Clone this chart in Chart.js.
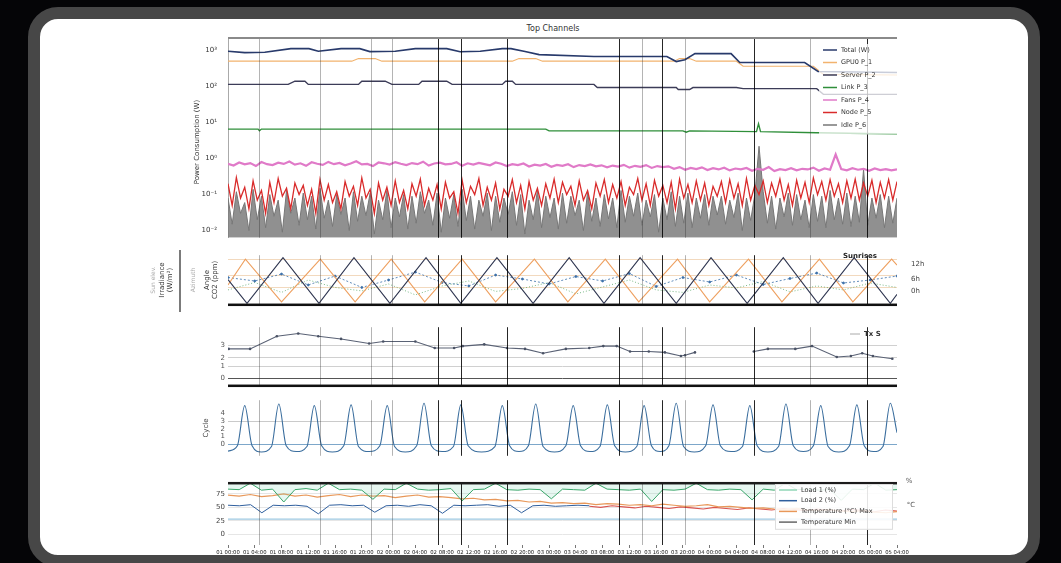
<!DOCTYPE html>
<html><head><meta charset="utf-8">
<script src="https://cdn.jsdelivr.net/npm/chart.js@4.4.1/dist/chart.umd.min.js"></script>
<style>
html,body{margin:0;padding:0;background:#050507;width:1061px;height:563px;overflow:hidden;}
#card{position:absolute;left:28px;top:7px;width:1012px;height:560px;box-sizing:border-box;border:12px solid #474747;border-radius:30px;background:#fff;}
canvas{position:absolute;left:100px;}
#title{position:absolute;left:453px;width:200px;top:24px;text-align:center;font:8px "DejaVu Sans";color:#333}
</style></head><body>
<div id="card"></div>
<div id="title">Top Channels</div>
<canvas id="c1" width="860" height="225" style="top:20px"></canvas>
<canvas id="c2" width="860" height="70" style="top:245px"></canvas>
<canvas id="c3" width="860" height="73" style="top:320px"></canvas>
<canvas id="c4" width="860" height="70" style="top:393px"></canvas>
<canvas id="c5" width="860" height="84" style="top:476px"></canvas>
<script>
// ---------------- data ----------------
const xTickLabels = ["01 00:00","01 04:00","01 08:00","01 12:00","01 16:00","01 20:00","02 00:00","02 04:00","02 08:00","02 12:00","02 16:00","02 20:00","03 00:00","03 04:00","03 08:00","03 12:00","03 16:00","03 20:00","04 00:00","04 04:00","04 08:00","04 12:00","04 16:00","04 20:00","05 00:00","05 04:00"];
const darkEvents = [31.4, 34.8, 41.7, 58.4, 64.9, 78.6, 95.5];
const lightEvents = [4.6, 13.8, 21.4, 24.5, 61.9, 68.3, 87.0];

// panel 1 (log scale)
const p1TickVals = [0.01, 0.1, 1, 10, 100, 1000];
const p1TickLabels = ["10\u207B\u00B2","10\u207B\u00B9","10\u2070","10\u00B9","10\u00B2","10\u00B3"];
const p1Labels = ["Total (W)","GPU0 P_1","Server P_2","Link P_3","Fans P_4","Node P_5","Idle P_6"];
const p1NavyX = [0,2.5,5.5,9.4,12.1,13.5,16.9,19.7,21.2,25,28,32.7,34.7,37.7,41,42.3,44.4,46.5,54.7,65.6,67,68.3,69.8,75.2,76.5,86.2,88.2,100];
const p1NavyY = [960,880,900,1135,1135,960,1135,1135,940,960,1135,1135,930,960,1135,1135,940,775,683,683,497,560,826,826,466,466,263,247];
const p1OrangeX = [0,18.5,19.5,22,23,42.5,43.5,46,47,66.7,67.5,69,70,76,77,87.5,89,100];
const p1OrangeY = [507,507,601,601,507,507,601,601,507,507,601,601,507,507,368,368,218,210];
const p1DarkX = [0,9,10,11.5,12,19.5,20,23.5,24.5,28.5,29,32.7,33.5,41,41.5,42.5,43,54.7,55.2,67,67.3,69,69.5,76,77,88,89,100];
const p1DarkY = [115,115,141,141,115,115,141,141,115,115,141,141,115,115,141,141,115,115,94,94,83,83,94,94,88,88,61,61];
const p1GreenX = [0,4.5,4.7,5,47.5,48,68,68.5,69,79,79.3,79.6,88,100];
const p1GreenY = [6.6,6.6,5.9,6.6,6.6,5.9,5.9,5.4,5.9,5.6,9.2,5.6,5.2,4.8];
const p1Pink = [0.72,0.64,0.78,0.69,0.75,0.62,0.80,0.70,0.66,0.77,
 0.71,0.83,0.68,0.74,0.63,0.79,0.72,0.67,0.81,0.70,
 0.76,0.65,0.73,0.84,0.69,0.71,0.62,0.78,0.74,0.68,
 0.80,0.72,0.66,0.75,0.70,0.82,0.64,0.73,0.77,0.69,
 0.71,0.79,0.63,0.74,0.68,0.76,0.70,0.65,0.78,0.72,
 0.62,0.70,0.66,0.73,0.60,0.68,0.64,0.71,0.59,0.67,
 0.63,0.70,0.58,0.66,0.62,0.69,0.61,0.65,0.57,0.64,
 0.60,0.67,0.56,0.63,0.59,0.66,0.55,0.62,0.58,0.61,
 0.52,0.58,0.49,0.55,0.51,0.57,0.48,0.54,0.50,0.56,
 0.47,0.53,0.50,0.55,0.46,0.52,0.49,0.58,0.45,0.51,
 0.48,0.54,0.47,0.52,0.50,0.56,0.46,0.53,0.49,1.30,
 0.51,0.47,0.54,0.49,0.52,0.46,0.53,0.48,0.51,0.47,0.50];
const p1Red = [0.20,0.05,0.30,0.08,0.16,0.04,0.24,0.07,0.13,0.03,
 0.22,0.06,0.28,0.09,0.15,0.04,0.21,0.10,0.18,0.05,
 0.14,0.03,0.26,0.07,0.19,0.06,0.12,0.04,0.23,0.09,
 0.17,0.05,0.29,0.08,0.14,0.03,0.21,0.07,0.16,0.05,
 0.24,0.06,0.13,0.04,0.20,0.09,0.27,0.05,0.15,0.07,
 0.19,0.04,0.22,0.08,0.12,0.03,0.25,0.06,0.17,0.10,
 0.28,0.05,0.16,0.07,0.21,0.04,0.14,0.09,0.26,0.06,
 0.18,0.04,0.23,0.07,0.15,0.05,0.20,0.08,0.27,0.06,
 0.22,0.10,0.17,0.05,0.24,0.07,0.13,0.04,0.21,0.09,
 0.26,0.06,0.19,0.08,0.23,0.05,0.16,0.10,0.28,0.07,
 0.20,0.05,0.25,0.09,0.18,0.06,0.22,0.04,0.27,0.08,
 0.19,0.06,0.24,0.07,0.21,0.05,0.17,0.09,0.23,0.06,
 0.26,0.08,0.20,0.05,0.28,0.07,0.18,0.10,0.24,0.06,
 0.21,0.09,0.27,0.07,0.19,0.05,0.25,0.08,0.22,0.06,
 0.29,0.10,0.23,0.07,0.26,0.09,0.20,0.06,0.24,0.08,
 0.27,0.07,0.21,0.09,0.25,0.06,0.22,0.08,0.26,0.07,
 0.23];
const p1Gray = [0.08,0.015,0.12,0.03,0.06,0.01,0.14,0.02,0.09,0.012,
 0.10,0.025,0.07,0.009,0.13,0.03,0.08,0.014,0.11,0.02,
 0.09,0.011,0.15,0.022,0.07,0.013,0.10,0.028,0.08,0.01,
 0.12,0.018,0.09,0.026,0.11,0.008,0.07,0.02,0.13,0.012,
 0.08,0.024,0.10,0.011,0.09,0.016,0.12,0.03,0.07,0.014,
 0.11,0.009,0.08,0.022,0.10,0.013,0.14,0.019,0.09,0.011,
 0.07,0.025,0.11,0.01,0.09,0.017,0.08,0.028,0.12,0.014,
 0.10,0.008,0.07,0.02,0.13,0.012,0.09,0.023,0.08,0.011,
 0.11,0.016,0.09,0.026,0.07,0.01,0.12,0.018,0.08,0.013,
 0.10,0.021,0.08,0.012,0.13,0.017,0.09,0.025,0.11,0.014,
 0.07,0.024,0.10,0.009,0.08,0.02,0.12,0.013,0.09,0.016,
 0.11,0.012,0.08,0.022,0.10,0.014,0.09,0.027,0.09,0.015,
 0.07,0.023,0.11,0.01,0.08,0.019,0.10,2.2,0.12,0.016,
 0.09,0.011,0.08,0.024,0.11,0.014,0.10,0.02,0.07,0.012,
 0.10,0.018,0.09,0.012,0.13,0.02,0.08,0.015,0.11,0.013,
 0.09,0.017,0.5,0.014,0.08,0.022,0.10,0.012,0.09,0.016,
 0.08];

// panel 2
const p2GridVals = [34, 60, 91];
const p2RightVals = [81.5, 52, 27.7];
const p2RightLabels = ["12h", "6h", "0h"];
const p2AX = [0,2.84,8.22,13.6,18.83,24.2,29.6,34.8,40.2,45.6,51.0,56.2,61.6,67.0,72.2,77.6,83.0,88.2,93.6,99.0,100];
const p2AY = [51,3,95,3,95,3,95,3,95,3,95,3,95,3,95,3,95,3,95,3,21];
const p2BX = [0,2.6,8.0,13.8,19.0,24.4,29.4,35.0,40.0,45.8,50.8,56.4,61.4,67.2,72.0,77.8,82.8,88.4,93.4,99.2,100];
const p2BY = [40,92,6,92,6,92,6,92,6,92,6,92,6,92,6,92,6,92,6,92,80];
const p2CX = [0,4,8,12,16,20,24,28,32,36,40,44,48,52,56,60,64,68,72,76,80,84,88,92,96,100];
const p2CY = [55,48,62,40,58,35,50,66,45,38,60,52,42,57,48,63,37,55,46,60,41,53,64,44,50,58];
const p2DY = [30,45,25,50,35,28,42,20,38,48,27,33,45,22,36,50,30,25,40,34,47,26,38,30,44,35];

// panel 3
const p3Ticks = [0.49, 1.35, 1.91, 2.77];
const p3TickLabels = ["0", "1", "2", "3"];
const p3X = [0.1,3.3,7.3,10.5,13.5,16.9,21.1,23.2,28.0,30.9,33.8,35.1,38.3,41.7,44.4,47.1,50.5,54.0,56.1,58.1,60.1,62.9,65.3,67.7,68.3,69.8,74,78.6,80.7,84.8,87.3,91.0,93.1,94.8,96.4,99.3];
const p3Y = [2.52,2.52,3.38,3.57,3.38,3.20,2.89,3.02,3.02,2.58,2.58,2.71,2.83,2.58,2.52,2.22,2.52,2.58,2.71,2.71,2.34,2.34,2.28,2.03,2.09,2.28,null,2.34,2.52,2.52,2.71,1.97,2.03,2.22,2.03,1.85];

// panel 4
const p4Ticks = [0, 1, 2, 3, 4];
const p4X = [0,1.4,2.5,3.6,5.0,6.5,7.6,8.7,10.2,11.8,12.9,14.0,15.6,17.3,18.4,19.5,21.1,22.7,23.8,24.9,26.5,28.2,29.3,30.4,32.0,33.7,34.8,35.9,37.9,39.9,41.0,42.1,43.5,44.9,46.0,47.1,48.8,50.5,51.6,52.7,54.1,55.6,56.7,57.8,59.4,61.1,62.2,63.3,64.6,65.9,67.0,68.1,69.7,71.4,72.5,73.6,75.2,76.9,78.0,79.1,80.7,82.3,83.4,84.5,86.0,87.5,88.6,89.7,91.3,92.9,94.0,95.1,96.5,97.9,99.0,100];
const p4Y = [-0.9,-0.2,5.0,-0.2,-1.0,-0.3,5.2,-0.2,-0.95,-0.3,5.0,-0.2,-1.0,-0.2,5.1,-0.3,-0.95,-0.2,5.0,-0.3,-1.0,-0.2,5.3,-0.2,-0.95,-0.3,5.1,-0.2,-1.0,-0.3,5.0,-0.2,-0.95,-0.2,5.2,-0.3,-1.0,-0.2,5.0,-0.2,-0.95,-0.3,5.1,-0.2,-1.0,-0.3,5.0,-0.2,-0.95,-0.2,5.3,-0.3,-1.0,-0.2,5.1,-0.2,-0.95,-0.3,5.0,-0.2,-1.0,-0.3,5.2,-0.2,-0.95,-0.2,5.0,-0.3,-1.0,-0.2,5.1,-0.2,-0.95,-0.3,5.3,1.5];

// panel 5
const p5Ticks = [0, 25, 50, 75];
const p5Labels = ["Load 1 (%)", "Load 2 (%)", "Temperature (\u00B0C) Max", "Temperature Min"];
const p5Green = [84,83,95,82,84,60,83,85,82,95,83,84,82,65,84,83,95,84,82,83,
 85,62,83,84,95,83,82,84,83,66,84,83,82,95,84,83,82,84,61,83,
 82,84,95,83,82,84,83,64,84,82,95,83,84,82,83,63,84,83,95,82,83];
const p5Orange = [73,71,74,70,72,75,71,73,69,72,74,70,73,71,72,68,71,73,69,70,
 68,66,67,64,65,62,63,60,61,58,59,57,58,55,57,56,54,55,53,56,
 54,52,53,55,51,52,50,48,49,47,46,48,45,44,46,43,42,44,41,40,42];
const p5Blue = [54,53,55,40,54,53,54,52,38,54,55,53,54,41,53,54,52,55,53,39,54,53,54,55,52,54,40,53,54,52,53,54,53];
const p5Red = [52,50,53,51,49,52,50,48,51,49,47,50,48,46,49,47,45,48,46,44,47,45,43,46,44,42,45,43];
const p5Ambient = [28, 28];

// ---------------- helpers ----------------
const pts = (xs, ys) => xs.map((x, i) => ({x, y: ys[i]}));
const even = (ys, a, b) => ys.map((y, i) => ({x: a + (b - a) * i / (ys.length - 1), y}));

Chart.defaults.font.family = '"DejaVu Sans", sans-serif';
Chart.defaults.font.size = 7;
Chart.defaults.color = '#444';

const CFG = {};
const overlay = {
  id: 'overlay',
  afterDraw(chart) {
    const c = CFG[chart.canvas.id]; if (!c) return;
    const ctx = chart.ctx, a = chart.chartArea, xs = chart.scales.x;
    const ox = 100, oy = c.top;
    ctx.save();
    const vline = (u, col) => { const x = Math.round(xs.getPixelForValue(u)) + 0.5;
      ctx.strokeStyle = col; ctx.lineWidth = 1; ctx.beginPath(); ctx.moveTo(x, a.top); ctx.lineTo(x, a.bottom); ctx.stroke(); };
    lightEvents.forEach(u => vline(u, 'rgba(40,40,40,0.35)'));
    darkEvents.forEach(u => vline(u, 'rgba(0,0,0,0.85)'));
    if (c.frameTop) { ctx.fillStyle = c.frameTop.c; ctx.fillRect(a.left, a.top - c.frameTop.w / 2, a.right - a.left, c.frameTop.w); }
    if (c.frameBottom) { ctx.fillStyle = c.frameBottom.c; ctx.fillRect(a.left, a.bottom - c.frameBottom.w / 2, a.right - a.left, c.frameBottom.w); }
    if (c.legend) {
      const L = c.legend;
      if (L.bg) { ctx.fillStyle = L.bg; ctx.fillRect(L.x - ox - 4, L.y - oy - 6, L.w, L.items.length * L.dy + 3);
        if (L.border) { ctx.strokeStyle = L.border; ctx.lineWidth = 1; ctx.strokeRect(L.x - ox - 3.5, L.y - oy - 5.5, L.w - 1, L.items.length * L.dy + 2); } }
      L.items.forEach((it, i) => {
        const y = L.y - oy + i * L.dy, x = L.x - ox;
        ctx.strokeStyle = it.color; ctx.lineWidth = it.width || 1.5; ctx.setLineDash(it.dash || []);
        ctx.beginPath(); ctx.moveTo(x, y); ctx.lineTo(x + (L.handle || 14), y); ctx.stroke(); ctx.setLineDash([]);
        ctx.fillStyle = '#333'; ctx.font = L.font || '6.5px "DejaVu Sans"'; ctx.textAlign = 'left'; ctx.textBaseline = 'middle';
        ctx.fillText(it.label, x + (L.handle || 14) + 4, y);
      });
    }
    (c.lines || []).forEach(l => { ctx.strokeStyle = l.c; ctx.lineWidth = l.w; ctx.beginPath(); ctx.moveTo(l.x1 - ox, l.y1 - oy); ctx.lineTo(l.x2 - ox, l.y2 - oy); ctx.stroke(); });
    (c.texts || []).forEach(t => {
      ctx.save(); ctx.translate(t.x - ox, t.y - oy); if (t.rot) ctx.rotate(t.rot * Math.PI / 180);
      ctx.font = t.font || '7px "DejaVu Sans"'; ctx.fillStyle = t.color || '#333';
      ctx.textAlign = t.align || 'center'; ctx.textBaseline = 'middle'; ctx.fillText(t.text, 0, 0); ctx.restore();
    });
    ctx.restore();
  }
};
Chart.register(overlay);

const baseOpts = (padTop, padBottom, padRight) => ({
  responsive: false, animation: false, maintainAspectRatio: false,
  layout: {padding: {left: 0, right: padRight, top: padTop, bottom: padBottom}},
  plugins: {legend: {display: false}, tooltip: {enabled: false}},
  elements: {point: {radius: 0}, line: {borderWidth: 1}}
});
const hiddenX = {type: 'linear', min: 0, max: 100, display: false};
const leftFit = s => { s.width = 128; };

// ---------------- panel 1 ----------------
const ds1 = [
  {label: p1Labels[0], data: pts(p1NavyX, p1NavyY), borderColor: '#283a6b', borderWidth: 1.6},
  {label: p1Labels[1], data: pts(p1OrangeX, p1OrangeY), borderColor: '#f2b36e', borderWidth: 1.2},
  {label: p1Labels[2], data: pts(p1DarkX, p1DarkY), borderColor: '#3c3c58', borderWidth: 1.4},
  {label: p1Labels[3], data: pts(p1GreenX, p1GreenY), borderColor: '#2f8f3a', borderWidth: 1.4},
  {label: p1Labels[4], data: even(p1Pink, 0, 100), borderColor: '#e07ac8', borderWidth: 2.2},
  {label: p1Labels[5], data: even(p1Red, 0, 100), borderColor: '#d92b2b', borderWidth: 1.3},
  {label: p1Labels[6], data: even(p1Gray, 0, 100), borderColor: '#777', borderWidth: 1, fill: 'start', backgroundColor: 'rgba(125,125,125,0.85)'}
];
CFG.c1 = {top: 20, frameTop: {c: '#8a8a8a', w: 2},
  legend: {x: 823, y: 50, dy: 12.5, w: 82, bg: 'rgba(255,255,255,0.75)',
    items: ds1.map(d => ({label: d.label, color: d.borderColor}))},
  texts: [{text: 'Power Consumption (W)', x: 197, y: 142, rot: -90, font: '7px "DejaVu Sans"'}]};
new Chart(document.getElementById('c1'), {type: 'line', data: {datasets: ds1},
  options: Object.assign(baseOpts(18, 5, 63), {scales: {
    x: hiddenX,
    y: {type: 'logarithmic', min: 0.0063, max: 2240, afterFit: leftFit,
      afterBuildTicks: s => { s.ticks = p1TickVals.map(v => ({value: v})); },
      ticks: {callback: v => p1TickLabels[p1TickVals.indexOf(v)], color: '#333', padding: 3},
      grid: {display: false}, border: {color: '#aaa'}}
  }})});

// ---------------- panel 2 ----------------
const ds2 = [
  {label: 'A', data: pts(p2AX, p2AY), borderColor: '#2e3550', borderWidth: 1.1},
  {label: 'B', data: pts(p2BX, p2BY), borderColor: '#eea060', borderWidth: 1.1},
  {label: 'C', data: pts(p2CX, p2CY), borderColor: '#3a6ea8', borderWidth: 0.8, borderDash: [2, 2], pointRadius: 1, pointBackgroundColor: '#3a6ea8'},
  {label: 'D', data: pts(p2CX, p2DY), borderColor: '#5aa86a', borderWidth: 0.8, borderDash: [1, 2]}
];
CFG.c2 = {top: 245, frameBottom: {c: '#111', w: 2.5},
  texts: [
    {text: 'Sunrises', x: 860, y: 256, font: 'bold 7px "DejaVu Sans"', color: '#222'},
    {text: 'Sun elev.', x: 153, y: 280, rot: -90, font: '6px "DejaVu Sans"', color: '#aaa'},
    {text: 'Irradiance', x: 162, y: 280, rot: -90, font: '7px "DejaVu Sans"', color: '#333'},
    {text: '(W/m\u00B2)', x: 170, y: 280, rot: -90, font: '7px "DejaVu Sans"', color: '#333'},
    {text: 'Azimuth', x: 193, y: 280, rot: -90, font: '6px "DejaVu Sans"', color: '#aaa'},
    {text: 'Angle', x: 207, y: 280, rot: -90, font: '7px "DejaVu Sans"', color: '#333'},
    {text: 'CO2 (ppm)', x: 215, y: 280, rot: -90, font: '7px "DejaVu Sans"', color: '#333'}
  ],
  lines: [{x1: 180, y1: 250, x2: 180, y2: 312, c: '#222', w: 1.2}]};
new Chart(document.getElementById('c2'), {type: 'line', data: {datasets: ds2},
  options: Object.assign(baseOpts(2, 3, 0), {scales: {
    x: hiddenX,
    y: {min: 0, max: 100, afterFit: leftFit,
      afterBuildTicks: s => { s.ticks = p2GridVals.map(v => ({value: v})); },
      ticks: {display: false}, grid: {color: 'rgba(226,170,110,0.45)', drawTicks: false}, border: {display: false}},
    y1: {position: 'right', min: 0, max: 100, afterFit: s => { s.width = 63; },
      afterBuildTicks: s => { s.ticks = p2RightVals.map(v => ({value: v})); },
      ticks: {callback: v => p2RightLabels[p2RightVals.indexOf(v)], color: '#444', padding: 6},
      grid: {display: false}, border: {display: false}}
  }})});

// ---------------- panel 3 ----------------
const ds3 = [{label: 'Tx S', data: pts(p3X, p3Y), borderColor: '#5a6275', borderWidth: 1.1,
  pointRadius: 1.3, pointBackgroundColor: '#4a5265', pointBorderWidth: 0, spanGaps: false}];
CFG.c3 = {top: 320, frameBottom: {c: '#111', w: 2.5},
  legend: {x: 850, y: 334, dy: 10, handle: 10, items: [{label: 'Tx S', color: '#aaa', width: 1}], font: 'bold 7px "DejaVu Sans"'}};
new Chart(document.getElementById('c3'), {type: 'line', data: {datasets: ds3},
  options: Object.assign(baseOpts(5, 3, 63), {scales: {
    x: hiddenX,
    y: {min: 0, max: 4, afterFit: leftFit,
      afterBuildTicks: s => { s.ticks = p3Ticks.map(v => ({value: v})); },
      ticks: {callback: v => p3TickLabels[p3Ticks.indexOf(v)], color: '#555', padding: 3},
      grid: {color: ctx => ctx.tick && ctx.tick.value === p3Ticks[0] ? '#555' : '#d0d0d0', drawTicks: false},
      border: {display: false}}
  }})});

// ---------------- panel 4 ----------------
const ds4 = [{label: 'Cycle', data: pts(p4X, p4Y), borderColor: '#3b6e9e', borderWidth: 1.1, cubicInterpolationMode: 'monotone'}];
CFG.c4 = {top: 393,
  texts: [{text: 'Cycle', x: 206, y: 428, rot: -90, font: '7px "DejaVu Sans"', color: '#444'}]};
new Chart(document.getElementById('c4'), {type: 'line', data: {datasets: ds4},
  options: Object.assign(baseOpts(4, 3, 63), {scales: {
    x: hiddenX,
    y: {min: -1.5, max: 5.7, afterFit: leftFit,
      afterBuildTicks: s => { s.ticks = p4Ticks.map(v => ({value: v})); },
      ticks: {color: '#555', padding: 3},
      grid: {color: ctx => ctx.tick && ctx.tick.value === 0 ? 'rgba(70,130,180,0.7)' : (ctx.tick && ctx.tick.value === 3 ? 'rgba(150,150,150,0.5)' : 'rgba(0,0,0,0)'), drawTicks: false},
      border: {display: false}}
  }})});

// ---------------- panel 5 ----------------
const ds5 = [
  {label: p5Labels[0], data: even(p5Green, 0, 100), borderColor: '#3aa66a', borderWidth: 1, fill: 'end', backgroundColor: 'rgba(120,210,180,0.18)'},
  {label: p5Labels[1], data: even(p5Blue, 0, 54), borderColor: '#2f5f9e', borderWidth: 1},
  {label: p5Labels[2], data: even(p5Orange, 0, 100), borderColor: '#e8985a', borderWidth: 1.2},
  {label: 'Temperature', data: even(p5Red, 54, 100), borderColor: '#d9534f', borderWidth: 1.1},
  {label: p5Labels[3], data: even(p5Ambient, 0, 100), borderColor: '#9ec9e2', borderWidth: 1.2}
];
CFG.c5 = {top: 476, frameTop: {c: '#1b1b1b', w: 2.5},
  legend: {x: 779, y: 490, dy: 10.7, w: 118, bg: 'rgba(255,255,255,0.88)', border: '#ddd', handle: 18,
    items: [
      {label: p5Labels[0], color: '#8fd6b6'},
      {label: p5Labels[1], color: '#2f5f9e'},
      {label: p5Labels[2], color: '#e8985a'},
      {label: p5Labels[3], color: '#666'}]},
  texts: [{text: '%', x: 909, y: 481, font: '7px "DejaVu Sans"', color: '#555'},
          {text: '\u00B0C', x: 911, y: 505, font: '7px "DejaVu Sans"', color: '#555'}]};
new Chart(document.getElementById('c5'), {type: 'line', data: {datasets: ds5},
  options: Object.assign(baseOpts(4, 3, 63), {scales: {
    x: {type: 'linear', min: 0, max: 100, afterFit: s => { s.height = 12; },
      afterBuildTicks: s => { s.ticks = xTickLabels.map((_, i) => ({value: i * 4})); },
      ticks: {autoSkip: false, maxRotation: 0, minRotation: 0, padding: 1, font: {size: 5.3}, color: '#222',
        callback: v => xTickLabels[Math.round(v / 4)]},
      grid: {drawOnChartArea: false, tickLength: 3, color: '#777'}, border: {display: false}},
    y: {min: -20, max: 95, afterFit: leftFit,
      afterBuildTicks: s => { s.ticks = p5Ticks.map(v => ({value: v})); },
      ticks: {color: '#444', padding: 3},
      grid: {color: '#e6e6e6', drawTicks: false}, border: {display: false}}
  }})});
</script>
</body></html>
